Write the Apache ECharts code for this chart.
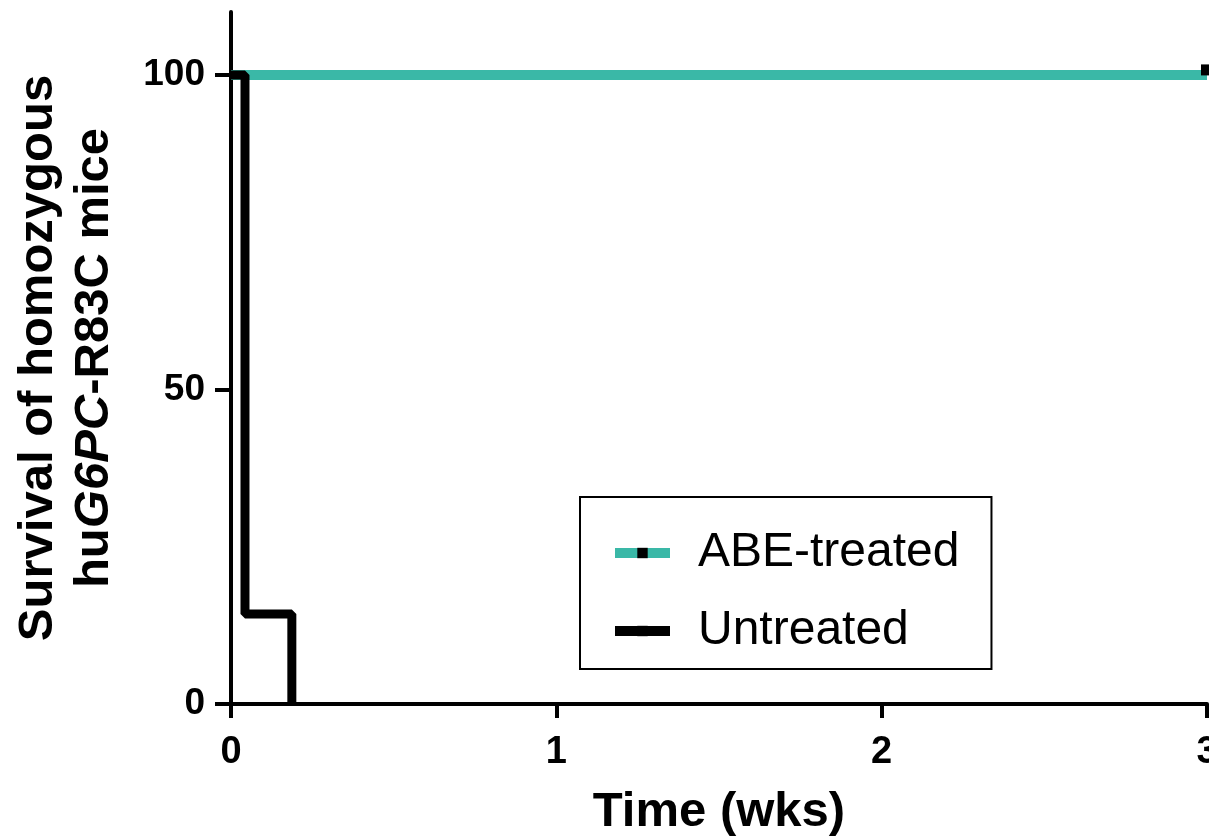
<!DOCTYPE html>
<html>
<head>
<meta charset="utf-8">
<script src="https://cdn.jsdelivr.net/npm/echarts@6/dist/echarts.min.js"></script>
<style>
  html, body { margin: 0; padding: 0; background: #fff; }
  #main { width: 1209px; height: 840px; }
</style>
</head>
<body>
<div id="main"></div>
<script>
    // Kaplan-Meier steps: [time in weeks, % surviving]
    var treatedTimes = [0, 3];
    var treatedSurvival = [100, 100];
    var untreatedTimes = [0, 0.043, 0.187];
    var untreatedSurvival = [100, 14.29, 0];
    var xTicks = [0, 1, 2, 3];
    var yTicks = [0, 50, 100];

    var dom = document.getElementById('main');
    var myChart = echarts.init(dom, null, { renderer: 'canvas' });

    var FONT = 'Liberation Sans, Arial, Helvetica, sans-serif';

    // last treated point is censored -> small black mark
    var treatedData = treatedTimes.map(function (t, i) {
        var last = i === treatedTimes.length - 1;
        return { value: [t, treatedSurvival[i]], symbol: last ? 'rect' : 'none' };
    });
    var untreatedData = untreatedTimes.map(function (t, i) {
        return { value: [t, untreatedSurvival[i]], symbol: 'none' };
    });

    var option = {
        animation: false,
        backgroundColor: '#fff',
        grid: { left: 231, right: 2, top: 12, bottom: 136, outerBoundsMode: 'none', containLabel: false },
        legend: {
            orient: 'vertical',
            left: 580,
            top: 497,
            data: ['ABE-treated', 'Untreated'],
            itemWidth: 55,
            itemHeight: 13,
            itemGap: 24,
            padding: [29, 32, 11, 30],
            borderColor: '#000',
            borderWidth: 2,
            backgroundColor: '#fff',
            lineStyle: { width: 10 },
            textStyle: {
                fontFamily: FONT,
                fontSize: 48,
                color: '#000',
                lineHeight: 54,
                padding: [0, 0, 0, 23]
            }
        },
        xAxis: {
            type: 'value',
            min: 0,
            max: 3,
            interval: 1,
            name: 'Time (wks)',
            nameLocation: 'middle',
            nameGap: 84,
            nameTextStyle: { fontFamily: FONT, fontSize: 49, fontWeight: 'bold', color: '#000' },
            splitLine: { show: false },
            axisLine: { show: true, lineStyle: { color: '#000', width: 4 } },
            axisTick: { show: true, length: 14, lineStyle: { color: '#000', width: 4 }, customValues: xTicks },
            axisLabel: {
                margin: 30,
                fontFamily: FONT, fontSize: 38, fontWeight: 'bold', color: '#000',
                customValues: xTicks
            }
        },
        yAxis: {
            type: 'value',
            min: 0,
            max: 110,
            interval: 50,
            name: '{a|Survival of homozygous}\n{a|hu}{b|G6PC}{a|-R83C mice}',
            nameLocation: 'middle',
            nameRotate: 90,
            nameGap: 109,
            nameTextStyle: {
                align: 'center',
                rich: {
                    a: { fontFamily: FONT, fontSize: 49, fontWeight: 'bold', color: '#000', lineHeight: 56 },
                    b: { fontFamily: FONT, fontSize: 49, fontWeight: 'bold', fontStyle: 'italic', color: '#000', lineHeight: 56 }
                }
            },
            splitLine: { show: false },
            axisLine: { show: true, lineStyle: { color: '#000', width: 4 } },
            axisTick: { show: true, length: 16, lineStyle: { color: '#000', width: 4 }, customValues: yTicks },
            axisLabel: {
                margin: 26,
                fontFamily: FONT, fontSize: 37, fontWeight: 'bold', color: '#000',
                customValues: yTicks
            }
        },
        series: [
            {
                name: 'ABE-treated',
                type: 'line',
                step: 'end',
                data: treatedData,
                symbol: 'rect',
                symbolSize: [8, 11],
                symbolOffset: [-2, -5],
                showAllSymbol: true,
                clip: false,
                lineStyle: { color: '#3ab8a7', width: 10 },
                itemStyle: { color: '#000' }
            },
            {
                name: 'Untreated',
                type: 'line',
                step: 'end',
                data: untreatedData,
                symbol: 'rect',
                symbolSize: [8, 11],
                showAllSymbol: true,
                lineStyle: { color: '#000', width: 9 },
                itemStyle: { color: '#000' }
            }
        ]
    };

    option && myChart.setOption(option);
</script>
</body>
</html>
